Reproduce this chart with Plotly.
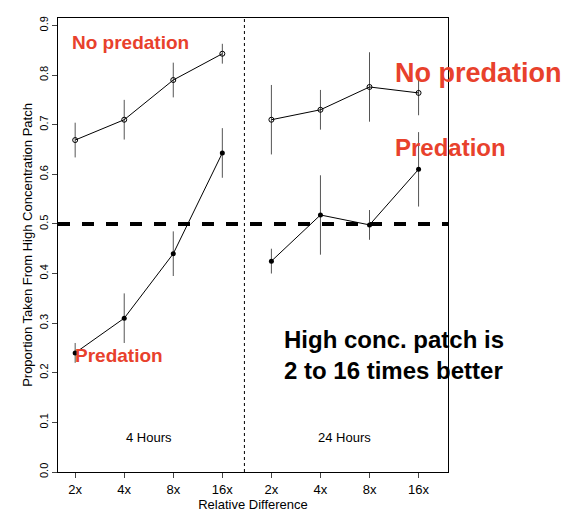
import plotly.graph_objects as go

ticklabels = ["2x", "4x", "8x", "16x", "2x", "4x", "8x", "16x"]
xpos = [0, 1, 2, 3, 4, 5, 6, 7]

nopred = [0.669, 0.71, 0.79, 0.843, 0.71, 0.73, 0.776, 0.764]
nopred_err = [0.035, 0.04, 0.035, 0.02, 0.07, 0.04, 0.07, 0.045]
pred = [0.24, 0.31, 0.44, 0.643, 0.425, 0.518, 0.498, 0.61]
pred_err = [0.02, 0.05, 0.045, 0.05, 0.025, 0.08, 0.03, 0.075]

fig = go.Figure()
for grp in [slice(0, 4), slice(4, 8)]:
    fig.add_trace(go.Scatter(x=xpos[grp], y=nopred[grp], mode="lines+markers",
                             line=dict(color="black", width=1),
                             marker=dict(symbol="circle-open", size=5, color="black"),
                             error_y=dict(type="data", array=nopred_err[grp], width=0,
                                          color="#555", thickness=1)))
    fig.add_trace(go.Scatter(x=xpos[grp], y=pred[grp], mode="lines+markers",
                             line=dict(color="black", width=1),
                             marker=dict(symbol="circle", size=5, color="black"),
                             error_y=dict(type="data", array=pred_err[grp], width=0,
                                          color="#555", thickness=1)))

fig.add_shape(type="line", x0=-0.35, x1=7.6, y0=0.5, y1=0.5,
              line=dict(color="black", width=4, dash="dash"))
fig.add_shape(type="line", x0=3.45, x1=3.45, y0=0, y1=0.915,
              line=dict(color="black", width=1, dash="dot"))

red = "#e8412c"
# (x, xref, y, text, colour, size)
notes = [
    (-0.1, "x", 0.865, "No predation", red, 19),
    (0.86, "paper", 0.805, "No predation", red, 27),
    (0.86, "paper", 0.655, "Predation", red, 24),
    (-0.05, "x", 0.235, "Predation", red, 19),
    (0.575, "paper", 0.235, "High conc. patch is<br>2 to 16 times better", "black", 24),
]
for x, xr, y, t, c, s in notes:
    fig.add_annotation(x=x, xref=xr, y=y, text="<b>" + t + "</b>", showarrow=False,
                       font=dict(color=c, size=s, family="Arial"),
                       xanchor="left", align="left")
fig.add_annotation(x=1.5, y=0.07, text="4 Hours", showarrow=False, font=dict(size=13))
fig.add_annotation(x=5.5, y=0.07, text="24 Hours", showarrow=False, font=dict(size=13))

fig.update_layout(width=582, height=522, showlegend=False, plot_bgcolor="white",
                  paper_bgcolor="white", margin=dict(l=50, r=142, t=8, b=58),
                  font=dict(family="Arial", color="black"))
fig.update_xaxes(range=[-0.35, 7.6], tickvals=xpos, ticktext=ticklabels,
                 showline=True, linecolor="black", mirror=True, ticks="outside",
                 showgrid=False, zeroline=False, tickfont=dict(size=13),
                 title=dict(text="Relative Difference", font=dict(size=13), standoff=4))
fig.update_yaxes(range=[0, 0.915], dtick=0.1, tickformat=".1f", tickangle=-90,
                 showline=True, linecolor="black", mirror=True, ticks="outside",
                 showgrid=False, zeroline=False, tickfont=dict(size=11),
                 title=dict(text="Proportion Taken From High Concentration Patch",
                            font=dict(size=13), standoff=2))
fig.write_html("out.html")
